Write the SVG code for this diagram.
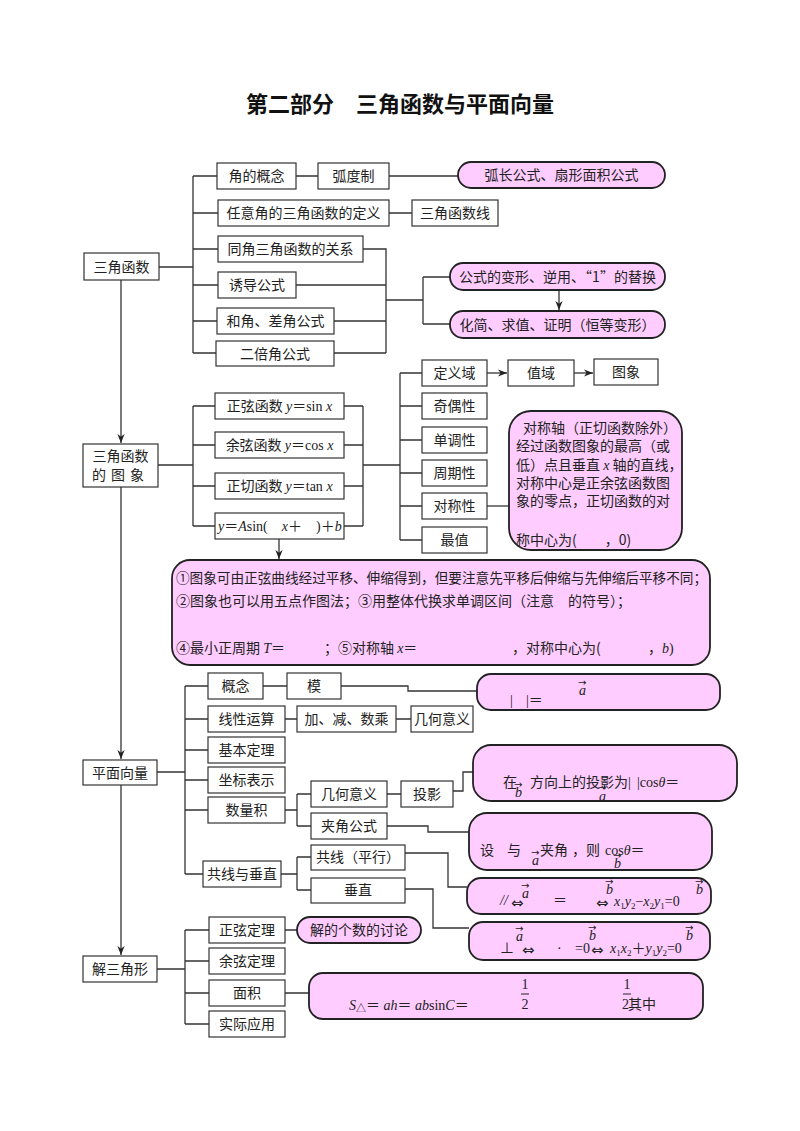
<svg xmlns="http://www.w3.org/2000/svg" width="800" height="1131" viewBox="0 0 800 1131">
<defs>
<style>
.box{fill:#fff;stroke:#333;stroke-width:1.2}
.pink{fill:#FFCCFF;stroke:#222;stroke-width:1.8}
.ln{fill:none;stroke:#333;stroke-width:1.3}
.t{font-family:"Noto Sans CJK SC",sans-serif;font-size:14px;fill:#222}
.c{text-anchor:middle}
.m{font-family:"Liberation Serif","Noto Sans CJK SC",serif;font-size:14px;fill:#222}
.i{font-style:italic}
.v{font-family:"DejaVu Sans",sans-serif;font-size:10px;fill:#222}
.eq{font-family:"DejaVu Sans",sans-serif;font-size:15px;fill:#222}
.title{font-family:"Noto Sans CJK SC",sans-serif;font-size:22px;font-weight:bold;fill:#111}
</style>
<marker id="ar" viewBox="0 0 10 10" refX="10" refY="5" markerWidth="7" markerHeight="7" orient="auto">
<path d="M0,1 L10,5 L0,9 L3,5 z" fill="#222"/>
</marker>
</defs>
<rect width="800" height="1131" fill="#fff"/>
<text class="title" x="400" y="112" text-anchor="middle">第二部分　三角函数与平面向量</text>

<g id="connectors">
<path class="ln" d="M121,280 V443" marker-end="url(#ar)"/>
<path class="ln" d="M121,487 V759" marker-end="url(#ar)"/>
<path class="ln" d="M121,785 V955" marker-end="url(#ar)"/>
<path class="ln" d="M159,267 H193 M193,176 V353 M193,176 H217 M193,213 H218 M193,249 H218 M193,285 H218 M193,321 H217 M193,353 H216"/>
<path class="ln" d="M296,176 H318 M389,176 H458 M389,213 H412"/>
<path class="ln" d="M363,249 H386 V353 M296,285 H386 M334,321 H386 M334,353 H386 M386,300 H423 M423,277 V324 M423,277 H450 M423,324 H450"/>
<path class="ln" d="M559,290 V310" marker-end="url(#ar)"/>
<path class="ln" d="M158,465 H193 M193,406 V526 M193,406 H215 M193,445 H215 M193,486 H215 M193,526 H215"/>
<path class="ln" d="M344,406 H363 M344,445 H363 M344,486 H363 M344,526 H363 M363,406 V526 M363,465 H400 M400,373 V540 M400,373 H422 M400,406 H422 M400,440 H422 M400,473 H422 M400,506 H422 M400,540 H422"/>
<path class="ln" d="M487,373 H507" marker-end="url(#ar)"/>
<path class="ln" d="M574,373 H593" marker-end="url(#ar)"/>
<path class="ln" d="M487,506 H509"/>
<path class="ln" d="M279,539 V559" marker-end="url(#ar)"/>
<path class="ln" d="M157,772 H185 M185,686 V874 M185,686 H208 M185,719 H208 M185,750 H208 M185,780 H208 M185,810 H208 M185,874 H203"/>
<path class="ln" d="M263,686 H287 M341,686 H408 V691 H477"/>
<path class="ln" d="M285,719 H297 M396,719 H411"/>
<path class="ln" d="M285,810 H297 M297,794 V826 M297,794 H311 M297,826 H311 M387,794 H401 M453,791 H463 V772 H473"/>
<path class="ln" d="M387,826 H428 V832 H469"/>
<path class="ln" d="M281,874 H297 M297,857 V890 M297,857 H311 M297,890 H311 M405,853 H448 V887 H467 M405,889 H433 V928 H469"/>
<path class="ln" d="M157,969 H185 M185,930 V1024 M185,930 H209 M185,961 H209 M185,993 H209 M185,1024 H209 M285,930 H297 M285,993 H309"/>
</g>

<g id="n-sjhs"><rect class="box" x="84" y="253" width="75" height="27"/><text class="t c" x="121.5" y="271.5">三角函数</text></g>
<g id="n-jdgn"><rect class="box" x="217" y="163" width="79" height="26"/><text class="t c" x="256.5" y="181">角的概念</text></g>
<g id="n-hdz"><rect class="box" x="318" y="163" width="71" height="26"/><text class="t c" x="353.5" y="181">弧度制</text></g>
<g id="n-hcgs"><rect class="pink" x="458" y="162" width="207" height="26" rx="13"/><text class="t c" x="561.5" y="180">弧长公式、扇形面积公式</text></g>
<g id="n-ryj"><rect class="box" x="218" y="200" width="171" height="26"/><text class="t c" x="303.5" y="218">任意角的三角函数的定义</text></g>
<g id="n-sjhsx"><rect class="box" x="412" y="200" width="86" height="26"/><text class="t c" x="455" y="218">三角函数线</text></g>
<g id="n-tj"><rect class="box" x="218" y="236" width="145" height="26"/><text class="t c" x="290.5" y="254">同角三角函数的关系</text></g>
<g id="n-ydgs"><rect class="box" x="218" y="272" width="78" height="26"/><text class="t c" x="257" y="290">诱导公式</text></g>
<g id="n-hj"><rect class="box" x="217" y="308" width="117" height="26"/><text class="t c" x="275.5" y="326">和角、差角公式</text></g>
<g id="n-ebj"><rect class="box" x="216" y="341" width="118" height="25"/><text class="t c" x="275" y="358.5">二倍角公式</text></g>
<g id="n-gsbx"><rect class="pink" x="450" y="263" width="215" height="27" rx="13"/><text class="t c" x="557.5" y="281.5">公式的变形、逆用、“1”的替换</text></g>
<g id="n-hj2"><rect class="pink" x="450" y="311" width="215" height="27" rx="13"/><text class="t c" x="557.5" y="329.5">化简、求值、证明（恒等变形）</text></g>

<g id="n-tx"><rect class="box" x="83" y="444" width="75" height="43"/><text class="t c" x="120.5" y="461">三角函数</text><text class="t c" x="120.5" y="480" letter-spacing="5">的图象</text></g>
<g id="n-sin"><rect class="box" x="215" y="393" width="129" height="26"/><text class="t c" x="279.5" y="411">正弦函数 <tspan class="m i">y</tspan><tspan class="m">＝sin </tspan><tspan class="m i">x</tspan></text></g>
<g id="n-cos"><rect class="box" x="215" y="432" width="129" height="26"/><text class="t c" x="279.5" y="450">余弦函数 <tspan class="m i">y</tspan><tspan class="m">＝cos </tspan><tspan class="m i">x</tspan></text></g>
<g id="n-tan"><rect class="box" x="215" y="473" width="129" height="26"/><text class="t c" x="279.5" y="491">正切函数 <tspan class="m i">y</tspan><tspan class="m">＝tan </tspan><tspan class="m i">x</tspan></text></g>
<g id="n-asin"><rect class="box" x="215" y="513" width="129" height="26"/><text class="m" x="218" y="531"><tspan class="i">y</tspan>＝<tspan class="i">A</tspan>sin(　<tspan class="i">x</tspan>＋　)＋<tspan class="i">b</tspan></text></g>
<g id="n-dyy"><rect class="box" x="422" y="360" width="65" height="26"/><text class="t c" x="454.5" y="378">定义域</text></g>
<g id="n-zy"><rect class="box" x="508" y="360" width="66" height="26"/><text class="t c" x="541" y="378">值域</text></g>
<g id="n-tx2"><rect class="box" x="594" y="359" width="64" height="26"/><text class="t c" x="626" y="377">图象</text></g>
<g id="n-jox"><rect class="box" x="422" y="393" width="65" height="26"/><text class="t c" x="454.5" y="411">奇偶性</text></g>
<g id="n-ddx"><rect class="box" x="422" y="427" width="65" height="26"/><text class="t c" x="454.5" y="445">单调性</text></g>
<g id="n-zqx"><rect class="box" x="422" y="460" width="65" height="26"/><text class="t c" x="454.5" y="478">周期性</text></g>
<g id="n-dcx"><rect class="box" x="422" y="493" width="65" height="26"/><text class="t c" x="454.5" y="511">对称性</text></g>
<g id="n-zz"><rect class="box" x="422" y="527" width="65" height="26"/><text class="t c" x="454.5" y="545">最值</text></g>
<g id="n-dcnote"><rect class="pink" x="509" y="411" width="173" height="139" rx="22"/>
<text class="t" x="523" y="433">对称轴（正切函数除外）</text>
<text class="t" x="516" y="451">经过函数图象的最高（或</text>
<text class="t" x="516" y="470">低）点且垂直 <tspan class="m i">x</tspan> 轴的直线，</text>
<text class="t" x="516" y="488">对称中心是正余弦函数图</text>
<text class="t" x="516" y="506">象的零点，正切函数的对</text>
<text class="t" x="516" y="545">称中心为(　　，0)</text>
</g>
<g id="n-asinnote"><rect class="pink" x="172" y="560" width="538" height="105" rx="18"/>
<text class="t" x="176" y="583" font-size="13.6" textLength="531" lengthAdjust="spacingAndGlyphs">①图象可由正弦曲线经过平移、伸缩得到，但要注意先平移后伸缩与先伸缩后平移不同；</text>
<text class="t" x="176" y="606" font-size="13.6">②图象也可以用五点作图法；③用整体代换求单调区间（注意　的符号）；</text>
<text class="t" x="176" y="653" font-size="13.6">④最小正周期 <tspan class="m i">T</tspan><tspan class="m">＝</tspan></text>
<text class="t" x="324" y="653" font-size="13.6">；⑤对称轴 <tspan class="m i">x</tspan><tspan class="m">＝</tspan></text>
<text class="t" x="512" y="653" font-size="13.6">，对称中心为(</text>
<text class="t" x="648" y="653" font-size="13.6">，<tspan class="m i">b</tspan><tspan class="m">)</tspan></text>
</g>

<g id="n-pmxl"><rect class="box" x="83" y="760" width="74" height="25"/><text class="t c" x="120" y="777.5">平面向量</text></g>
<g id="n-gn"><rect class="box" x="208" y="673" width="55" height="26"/><text class="t c" x="235.5" y="691">概念</text></g>
<g id="n-mo"><rect class="box" x="287" y="673" width="54" height="26"/><text class="t c" x="314" y="691">模</text></g>
<g id="n-xxys"><rect class="box" x="208" y="706" width="77" height="26"/><text class="t c" x="246.5" y="724">线性运算</text></g>
<g id="n-jjsc"><rect class="box" x="297" y="706" width="99" height="26"/><text class="t c" x="346.5" y="724">加、减、数乘</text></g>
<g id="n-jhyy1"><rect class="box" x="411" y="706" width="62" height="26"/><text class="t c" x="442" y="724">几何意义</text></g>
<g id="n-jbdl"><rect class="box" x="208" y="737" width="77" height="26"/><text class="t c" x="246.5" y="755">基本定理</text></g>
<g id="n-zbbs"><rect class="box" x="208" y="767" width="77" height="26"/><text class="t c" x="246.5" y="785">坐标表示</text></g>
<g id="n-slj"><rect class="box" x="208" y="797" width="77" height="26"/><text class="t c" x="246.5" y="815">数量积</text></g>
<g id="n-jhyy2"><rect class="box" x="311" y="781" width="76" height="26"/><text class="t c" x="349" y="799">几何意义</text></g>
<g id="n-ty"><rect class="box" x="401" y="781" width="52" height="26"/><text class="t c" x="427" y="799">投影</text></g>
<g id="n-jjgs"><rect class="box" x="311" y="813" width="76" height="26"/><text class="t c" x="349" y="831">夹角公式</text></g>
<g id="n-gxcz"><rect class="box" x="203" y="861" width="78" height="26"/><text class="t c" x="242" y="879">共线与垂直</text></g>
<g id="n-gx"><rect class="box" x="311" y="845" width="94" height="25"/><text class="t c" x="358" y="862">共线（平行）</text></g>
<g id="n-cz"><rect class="box" x="311" y="878" width="94" height="25"/><text class="t c" x="358" y="895">垂直</text></g>

<g id="n-monote"><rect class="pink" x="477" y="674" width="243" height="36" rx="14"/>
<text class="m" x="510" y="705">|</text><text class="m" x="526" y="705">|＝</text>
<text class="v" x="578" y="686">→</text><text class="m i" x="579" y="695">a</text>
</g>
<g id="n-tynote"><rect class="pink" x="473" y="745" width="264" height="56" rx="18"/>
<text class="t" x="503" y="787">在</text>
<text class="v" x="514" y="788">→</text><text class="m i" x="515" y="797">b</text>
<text class="t" x="530" y="787">方向上的投影为<tspan class="m">|</tspan></text>
<text class="v" x="598" y="791">→</text><text class="m i" x="599" y="801">a</text>
<text class="m" x="637" y="787">|cos<tspan class="i">θ</tspan>＝</text>
</g>
<g id="n-jjnote"><rect class="pink" x="469" y="813" width="243" height="57" rx="18"/>
<text class="t" x="480" y="855">设</text>
<text class="t" x="507" y="855">与</text>
<text class="v" x="531" y="856">→</text><text class="m i" x="532" y="865">a</text>
<text class="t" x="540" y="855">夹角</text>
<text class="t" x="572" y="855">，则</text>
<text class="m" x="605" y="855">cos<tspan class="i">θ</tspan>＝</text>
<text class="v" x="613" y="859">→</text><text class="m i" x="614" y="868">b</text>
</g>
<g id="n-gxnote"><rect class="pink" x="467" y="878" width="244" height="36" rx="14"/>
<text class="m i" x="500" y="905" font-size="11">//</text>
<text class="v" x="521" y="889">→</text><text class="m i" x="522" y="898">a</text>
<text class="eq" x="511" y="908">⇔</text>
<text class="m" x="553" y="905">＝</text>
<text class="v" x="605" y="885">→</text><text class="m i" x="606" y="894">b</text>
<text class="eq" x="596" y="908">⇔</text>
<text class="m" x="614" y="906"><tspan class="i">x</tspan><tspan font-size="9" dy="3">1</tspan><tspan class="i" dy="-3">y</tspan><tspan font-size="9" dy="3">2</tspan><tspan dy="-3">−</tspan><tspan class="i">x</tspan><tspan font-size="9" dy="3">2</tspan><tspan class="i" dy="-3">y</tspan><tspan font-size="9" dy="3">1</tspan><tspan dy="-3">=0</tspan></text>
<text class="v" x="695" y="885">→</text><text class="m i" x="696" y="894">b</text>
</g>
<g id="n-cznote"><rect class="pink" x="469" y="922" width="241" height="38" rx="14"/>
<text class="m" x="500" y="953">⊥</text>
<text class="v" x="515" y="932">→</text><text class="m i" x="516" y="941">a</text>
<text class="eq" x="522" y="955">⇔</text>
<text class="m" x="557" y="953">·</text>
<text class="m" x="575" y="953">=0</text>
<text class="v" x="588" y="931">→</text><text class="m i" x="589" y="940">b</text>
<text class="eq" x="591" y="955">⇔</text>
<text class="m" x="610" y="953"><tspan class="i">x</tspan><tspan font-size="9" dy="3">1</tspan><tspan class="i" dy="-3">x</tspan><tspan font-size="9" dy="3">2</tspan><tspan dy="-3">＋</tspan><tspan class="i">y</tspan><tspan font-size="9" dy="3">1</tspan><tspan class="i" dy="-3">y</tspan><tspan font-size="9" dy="3">2</tspan><tspan dy="-3">=0</tspan></text>
<text class="v" x="685" y="931">→</text><text class="m i" x="686" y="940">b</text>
</g>

<g id="n-jsjx"><rect class="box" x="83" y="956" width="74" height="26"/><text class="t c" x="120" y="974">解三角形</text></g>
<g id="n-zxdl"><rect class="box" x="209" y="917" width="76" height="26"/><text class="t c" x="247" y="935">正弦定理</text></g>
<g id="n-jdgs"><rect class="pink" x="297" y="917" width="124" height="26" rx="13"/><text class="t c" x="359" y="935">解的个数的讨论</text></g>
<g id="n-yxdl"><rect class="box" x="209" y="948" width="76" height="26"/><text class="t c" x="247" y="966">余弦定理</text></g>
<g id="n-mj"><rect class="box" x="209" y="980" width="76" height="26"/><text class="t c" x="247" y="998">面积</text></g>
<g id="n-sjyy"><rect class="box" x="209" y="1011" width="76" height="26"/><text class="t c" x="247" y="1029">实际应用</text></g>
<g id="n-mjnote"><rect class="pink" x="309" y="973" width="394" height="46" rx="14"/>
<text class="m" x="349" y="1010"><tspan class="i">S</tspan><tspan font-size="10" dy="2">△</tspan><tspan dy="-2">＝ </tspan><tspan class="i">ah</tspan>＝ <tspan class="i">ab</tspan>sin<tspan class="i">C</tspan>＝</text>
<text class="m c" x="525" y="989">1</text><path d="M521,994 H529" stroke="#222" stroke-width="1"/><text class="m c" x="525" y="1009">2</text>
<text class="m c" x="627" y="989">1</text><path d="M623,994 H631" stroke="#222" stroke-width="1"/><text class="m" x="622" y="1009">2</text><text class="t" x="628" y="1009">其中</text>
</g>
</svg>
